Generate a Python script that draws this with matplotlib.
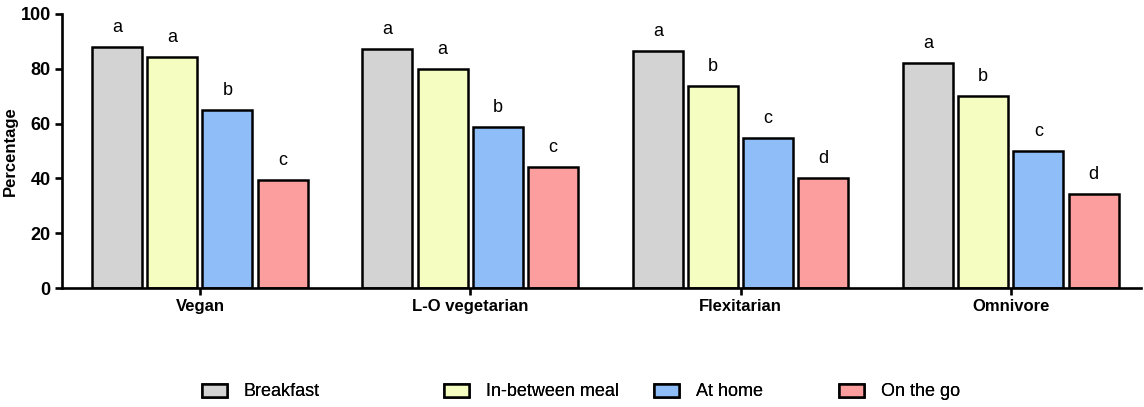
import matplotlib
matplotlib.use('Agg')
import matplotlib.pyplot as plt
import numpy as np

plt.rcParams['font.family'] = ['Liberation Sans', 'DejaVu Sans']

GROUPS = ['Vegan', 'L-O vegetarian', 'Flexitarian', 'Omnivore']
SERIES = ['Breakfast', 'In-between meal', 'At home', 'On the go']
COLORS = ['#d3d3d3', '#f5fdc0', '#8fbdf7', '#fd9e9e']

breakfast = [88.0, 87.2, 86.5, 82.0]
in_between = [84.3, 79.9, 73.7, 69.9]
at_home = [65.0, 58.8, 54.7, 50.1]
on_the_go = [39.4, 44.2, 40.0, 34.2]

letters_breakfast = ['a', 'a', 'a', 'a']
letters_in_between = ['a', 'a', 'b', 'b']
letters_at_home = ['b', 'b', 'c', 'c']
letters_on_the_go = ['c', 'c', 'd', 'd']

values = [breakfast, in_between, at_home, on_the_go]
letters = [letters_breakfast, letters_in_between, letters_at_home, letters_on_the_go]

fig = plt.figure(figsize=(11.44, 4.07), dpi=100)
ax = fig.add_axes([0.054, 0.292, 0.943, 0.674])

x = np.arange(len(GROUPS))
width = 0.185
step = 0.204
bars = []
for i, (vals, labs) in enumerate(zip(values, letters)):
    pos = x + (i - 1.5) * step
    b = ax.bar(pos, vals, width, color=COLORS[i], edgecolor='black', linewidth=1.8)
    bars.append(b)
    for px, v, l in zip(pos, vals, labs):
        ax.text(px, v + 4, l, ha='center', va='bottom', fontsize=13)

ax.set_xlim(-0.511, 3.48)
ax.set_ylim(0, 100)
ax.set_yticks([0, 20, 40, 60, 80, 100])
ax.set_xticks(x)
ax.set_xticklabels(GROUPS, fontweight='bold', fontsize=12)
for t in ax.get_yticklabels():
    t.set_fontweight('bold')
    t.set_fontsize(13)
ax.set_ylabel('Percentage', fontweight='bold', fontsize=12)
ax.yaxis.set_label_coords(-0.041, 0.5)
ax.spines['top'].set_visible(False)
ax.spines['right'].set_visible(False)
ax.spines['left'].set_linewidth(1.9)
ax.spines['bottom'].set_linewidth(1.9)
ax.tick_params(axis='both', width=1.9, length=5, direction='out', pad=3)

# legend entries spread along the bottom like the original
leg_x = [202, 444, 654, 839]
for b, name, lx in zip(bars, SERIES, leg_x):
    lg = fig.legend([b], [name], loc='center left', bbox_to_anchor=(lx / 1144, 1 - 392 / 407),
                    frameon=False, fontsize=13, handlelength=1.4, handleheight=0.7,
                    handletextpad=0.9, borderaxespad=0, borderpad=0)
    fig.add_artist(lg)

fig.savefig('out.png', dpi=100)
